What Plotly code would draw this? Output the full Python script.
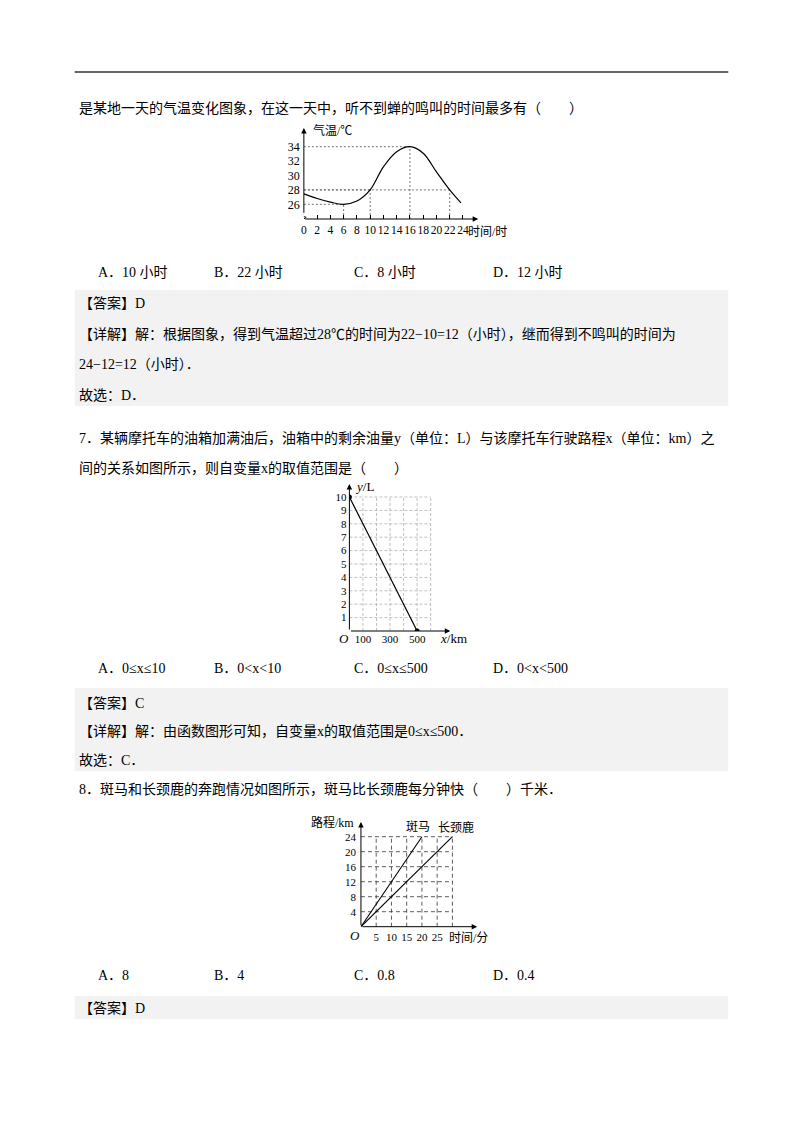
import plotly.graph_objects as go

W, H = 800, 1132
SERIF = "Liberation Serif, Noto Sans CJK SC"

# ---- chart 1: temperature over a day ----
hours = [0, 2, 4, 6, 8, 10, 12, 14, 16, 18, 20, 22, 23.7]
temps = [27.45, 26.8, 26.3, 26.0, 26.45, 28.0, 31.2, 33.3, 34.0, 33.1, 30.5, 28.0, 26.2]
hour_ticks = [0, 2, 4, 6, 8, 10, 12, 14, 16, 18, 20, 22, 24]
temp_ticks = [26, 28, 30, 32, 34]
guide_hours = [6, 10, 16, 22]
guide_temps = [26, 28, 34, 28]

# ---- chart 2: fuel left vs distance ----
dist = [0, 500]
fuel = [10, 0]
dist_ticks = [100, 300, 500]
fuel_ticks = [1, 2, 3, 4, 5, 6, 7, 8, 9, 10]
grid_dist = [100, 200, 300, 400, 500, 600]
grid_fuel = [1, 2, 3, 4, 5, 6, 7, 8, 9, 10]

# ---- chart 3: zebra and giraffe ----
zebra_min = [0, 20]
zebra_km = [0, 24]
giraffe_min = [0, 30]
giraffe_km = [0, 24]
minute_ticks = [5, 10, 15, 20, 25]
km_ticks = [4, 8, 12, 16, 20, 24]
grid_min = [5, 10, 15, 20, 25, 30]
grid_km = [4, 8, 12, 16, 20, 24]


def fx(p):
    return p / W


def fy(p):
    return 1 - p / H


def txt(x, y, s, size=14, anchor="left"):
    return dict(x=fx(x), y=fy(y), xref="paper", yref="paper", text=s, showarrow=False,
                xanchor=anchor, yanchor="middle",
                font=dict(family=SERIF, size=size, color="black"))


def arrow(xr, yr, x0, y0, x1, y1):
    return dict(x=x1, y=y1, ax=x0, ay=y0, xref=xr, yref=yr, axref=xr, ayref=yr,
                text="", showarrow=True, arrowhead=2, arrowsize=1.1, arrowwidth=1,
                arrowcolor="black", standoff=0, startstandoff=0)


def grid_lines(xs, ys):
    gx, gy = [], []
    for v in xs:
        gx += [v, v, None]
        gy += [0, max(ys), None]
    for v in ys:
        gx += [0, max(xs), None]
        gy += [v, v, None]
    return gx, gy


# pixel geometry of the three little charts
# chart 1
c1_x0, c1_pxh = 302, 6.654
c1_yb, c1_pxt, c1_t0 = 219, 7.2, 204.3
c1_xmax = (480 - c1_x0) / c1_pxh
c1_ymin = 26 - (c1_yb - c1_t0) / c1_pxt
c1_ymax = 26 + (c1_t0 - 126) / c1_pxt
# chart 2
c2_x0, c2_pxk = 347.7, 0.136
c2_yb, c2_pxl = 631, 13.4
c2_xmax = (452 - c2_x0) / c2_pxk
c2_ymax = (c2_yb - 482) / c2_pxl
# chart 3
c3_x0, c3_pxm = 359.3, 3.06
c3_yb, c3_pxk = 926.7, 3.75
c3_xmax = (480 - c3_x0) / c3_pxm
c3_ymax = (c3_yb - 820) / c3_pxk

fig = go.Figure()

# chart 1 traces
gx, gy = [], []
for h, t in zip(guide_hours, guide_temps):
    gx += [h, h, None, 0, h, None]
    gy += [c1_ymin, t, None, t, t, None]
fig.add_trace(go.Scatter(x=gx, y=gy, mode="lines", xaxis="x", yaxis="y",
                         line=dict(color="#555", width=0.8, dash="2px,2px")))
fig.add_trace(go.Scatter(x=hours, y=temps, mode="lines", xaxis="x", yaxis="y",
                         line=dict(color="black", width=1.2, shape="spline")))

# chart 2 traces
g2x, g2y = grid_lines(grid_dist, grid_fuel)
fig.add_trace(go.Scatter(x=g2x, y=g2y, mode="lines", xaxis="x2", yaxis="y2",
                         line=dict(color="#b0b0b0", width=0.8, dash="3px,2px")))
fig.add_trace(go.Scatter(x=dist, y=fuel, mode="lines+markers", xaxis="x2", yaxis="y2",
                         line=dict(color="black", width=1.2),
                         marker=dict(color="black", size=5)))

# chart 3 traces
g3x, g3y = grid_lines(grid_min, grid_km)
fig.add_trace(go.Scatter(x=g3x, y=g3y, mode="lines", xaxis="x3", yaxis="y3",
                         line=dict(color="#333", width=0.8, dash="4px,3px")))
fig.add_trace(go.Scatter(x=zebra_min, y=zebra_km, mode="lines", xaxis="x3", yaxis="y3",
                         line=dict(color="black", width=1.1)))
fig.add_trace(go.Scatter(x=giraffe_min, y=giraffe_km, mode="lines", xaxis="x3", yaxis="y3",
                         line=dict(color="black", width=1.1)))

tick_font = dict(family=SERIF, size=12, color="black")
base = dict(showgrid=False, zeroline=False, showline=False, fixedrange=True, tickfont=tick_font)

fig.update_layout(
    width=W, height=H, margin=dict(l=0, r=0, t=0, b=0),
    paper_bgcolor="white", plot_bgcolor="rgba(0,0,0,0)", showlegend=False,
    xaxis=dict(base, domain=[fx(c1_x0), fx(480)], range=[0, c1_xmax], anchor="y",
               tickvals=hour_ticks, ticks="inside", ticklen=4, tickcolor="black",
               tickangle=0, ticklabelstandoff=2, tickfont=dict(tick_font, size=11.5)),
    yaxis=dict(base, domain=[fy(c1_yb), fy(126)], range=[c1_ymin, c1_ymax], anchor="x",
               tickvals=temp_ticks, ticks="", ticklabelstandoff=3),
    xaxis2=dict(base, domain=[fx(c2_x0), fx(452)], range=[0, c2_xmax], anchor="y2",
                tickvals=dist_ticks, ticks="", ticklabelstandoff=0, tickangle=0,
                tickfont=dict(tick_font, size=11)),
    yaxis2=dict(base, domain=[fy(c2_yb), fy(482)], range=[0, c2_ymax], anchor="x2",
                tickvals=fuel_ticks, ticks="", ticklabelstandoff=2,
                tickfont=dict(tick_font, size=11)),
    xaxis3=dict(base, domain=[fx(c3_x0), fx(480)], range=[0, c3_xmax], anchor="y3",
                tickvals=minute_ticks, ticks="", ticklabelstandoff=2, tickangle=0,
                tickfont=dict(tick_font, size=11)),
    yaxis3=dict(base, domain=[fy(c3_yb), fy(820)], range=[0, c3_ymax], anchor="x3",
                tickvals=km_ticks, ticks="", ticklabelstandoff=4,
                tickfont=dict(tick_font, size=11)),
)

shapes = [
    dict(type="line", xref="paper", yref="paper", x0=fx(72), x1=fx(728), y0=fy(72), y1=fy(72),
         line=dict(color="#333", width=1.5)),
    dict(type="rect", xref="paper", yref="paper", x0=fx(72), x1=fx(728), y0=fy(290), y1=fy(406),
         fillcolor="#f2f2f2", line=dict(width=0), layer="below"),
    dict(type="rect", xref="paper", yref="paper", x0=fx(72), x1=fx(728), y0=fy(688), y1=fy(771),
         fillcolor="#f2f2f2", line=dict(width=0), layer="below"),
    dict(type="rect", xref="paper", yref="paper", x0=fx(72), x1=fx(728), y0=fy(996), y1=fy(1019),
         fillcolor="#f2f2f2", line=dict(width=0), layer="below"),
    # axis break on the temperature axis
    dict(type="path", xref="x", yref="y",
         path="M 0,%.3f L -0.35,%.3f L 0.35,%.3f L 0,%.3f" % (
             c1_ymin + 0.65, c1_ymin + 0.45, c1_ymin + 0.22, c1_ymin),
         line=dict(color="black", width=1)),
]

ann = [
    # axes with arrows
    arrow("x", "y", 0, c1_ymin, (477 - c1_x0) / c1_pxh, c1_ymin),
    arrow("x", "y", 0, c1_ymin + 0.65, 0, 26 + (c1_t0 - 128) / c1_pxt),
    arrow("x2", "y2", 0, 0, (449 - c2_x0) / c2_pxk, 0),
    arrow("x2", "y2", 0, 0, 0, (c2_yb - 484) / c2_pxl),
    arrow("x3", "y3", 0, 0, (476 - c3_x0) / c3_pxm, 0),
    arrow("x3", "y3", 0, 0, 0, (c3_yb - 822) / c3_pxk),
    # chart labels
    txt(309, 130, "气温/℃", 12),
    txt(465, 232, "时间/时", 12),
    txt(351, 487, "<i>y</i>/L", 13),
    txt(437, 638, "<i>x</i>/km", 13),
    txt(342, 638, "<i>O</i>", 13, "center"),
    txt(354, 823, "路程/km", 12, "right"),
    txt(417, 827, "斑马", 12, "center"),
    txt(455, 827, "长颈鹿", 12, "center"),
    txt(446, 938, "时间/分", 12),
    txt(353, 935, "<i>O</i>", 13, "center"),
    # page text
    txt(74, 108, "是某地一天的气温变化图象，在这一天中，听不到蝉的鸣叫的时间最多有（　　）"),
    txt(93, 273, "A．10 小时"),
    txt(210, 273, "B．22 小时"),
    txt(350, 273, "C．8 小时"),
    txt(490, 273, "D．12 小时"),
    txt(74, 303, "【答案】D"),
    txt(74, 334, "【详解】解：根据图象，得到气温超过28℃的时间为22−10=12（小时），继而得到不鸣叫的时间为"),
    txt(74, 364, "24−12=12（小时）．"),
    txt(74, 395, "故选：D．"),
    txt(74, 438, "7．某辆摩托车的油箱加满油后，油箱中的剩余油量y（单位：L）与该摩托车行驶路程x（单位：km）之"),
    txt(74, 468, "间的关系如图所示，则自变量x的取值范围是（　　）"),
    txt(93, 668, "A．0≤x≤10"),
    txt(210, 668, "B．0&lt;x&lt;10"),
    txt(350, 668, "C．0≤x≤500"),
    txt(490, 668, "D．0&lt;x&lt;500"),
    txt(74, 703, "【答案】C"),
    txt(74, 731, "【详解】解：由函数图形可知，自变量x的取值范围是0≤x≤500．"),
    txt(74, 760, "故选：C．"),
    txt(74, 789, "8．斑马和长颈鹿的奔跑情况如图所示，斑马比长颈鹿每分钟快（　　）千米．"),
    txt(93, 975, "A．8"),
    txt(210, 975, "B．4"),
    txt(350, 975, "C．0.8"),
    txt(490, 975, "D．0.4"),
    txt(74, 1008, "【答案】D"),
]

fig.update_layout(shapes=shapes, annotations=ann)
fig.write_html("out.html", config={"displayModeBar": False},
               post_script="document.body.style.margin='0';document.body.style.overflow='hidden';")
